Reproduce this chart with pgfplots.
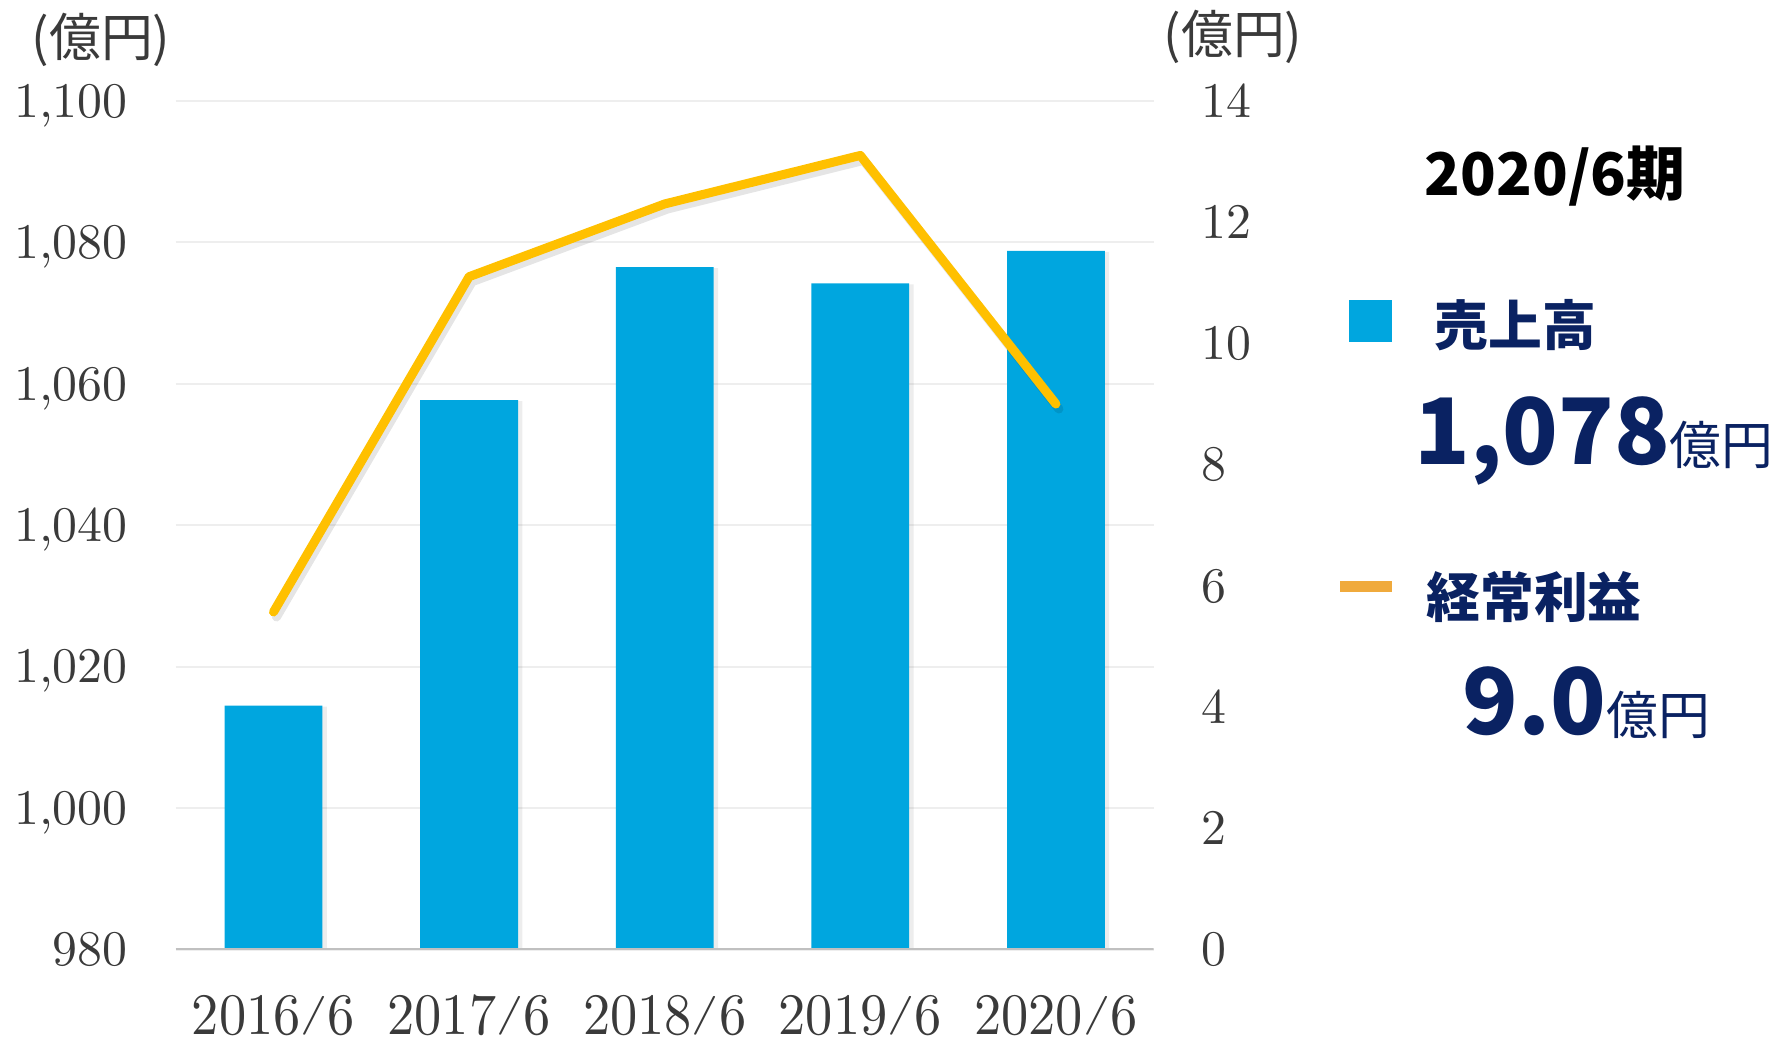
\documentclass[border=0pt]{standalone}
\usepackage{graphicx}
\usepackage{pgfplots}
\pgfplotsset{compat=1.18}
\usepackage{fontspec}
\newfontfamily\jp{Noto Sans CJK JP}
\newfontfamily\lmten{lmroman10-regular}[Extension=.otf]
\definecolor{barblue}{HTML}{00A6DF}
\definecolor{lineyel}{HTML}{FFC000}
\definecolor{legor}{HTML}{F0AA3C}
\definecolor{navy}{HTML}{0A2262}
\definecolor{tickc}{HTML}{3A3A3A}
\definecolor{gridc}{HTML}{EEEEEE}
\definecolor{basec}{HTML}{C0C0C0}
\newcommand\slsh{\raisebox{0.16em}{\scalebox{1}[0.66]{/}}}
\newcommand\xl[1]{\scalebox{1}[1.08]{#1}}
\begin{document}
\begin{tikzpicture}[x=0.5bp,y=0.5bp]
\path[use as bounding box] (0,0) rectangle (1777,1043);
\begin{axis}[
  at={(87.85bp,46.65bp)}, anchor=south west, scale only axis,
  width=489bp, height=424.4bp,
  xmin=-0.5, xmax=4.5, ymin=980, ymax=1100,
  ytick={980,1000,...,1100},
  xtick={0,...,4},
  xticklabels={\xl{2016\slsh6},\xl{2017\slsh6},\xl{2018\slsh6},\xl{2019\slsh6},\xl{2020\slsh6}},
  axis line style={draw=none},
  major tick length=0pt,
  ymajorgrids, grid style={draw=gridc, line width=1bp},
  /pgf/number format/assume math mode=true,
  yticklabel style={font=\lmten\fontsize{25}{30}\selectfont, text=tickc, anchor=base east, inner sep=0pt, xshift=-23.8bp, yshift=-8.1bp},
  xticklabel style={font=\lmten\fontsize{27.3}{30}\selectfont, text=tickc, anchor=base, inner sep=0pt, yshift=-42.6bp},
]
\addplot[ybar, bar shift=0pt, bar width=0.5, fill=black, fill opacity=0.07, draw=none, xshift=2.2bp, yshift=-0.5bp] coordinates {(0,1014.5) (1,1057.7) (2,1076.5) (3,1074.2) (4,1078.8)};
\addplot[ybar, bar shift=0pt, bar width=0.5, fill=barblue, draw=none] coordinates {(0,1014.5) (1,1057.7) (2,1076.5) (3,1074.2) (4,1078.8)};
\draw[basec, line width=1.6bp] (rel axis cs:0,0) -- (rel axis cs:1,0);
\end{axis}
\begin{axis}[
  at={(87.85bp,46.65bp)}, anchor=south west, scale only axis,
  width=489bp, height=424.4bp,
  xmin=-0.5, xmax=4.5, ymin=0, ymax=14,
  ytick={0,2,...,14}, xtick=\empty,
  axis line style={draw=none},
  major tick length=0pt,
  yticklabel pos=right,
  /pgf/number format/assume math mode=true,
  yticklabel style={font=\lmten\fontsize{25}{30}\selectfont, text=tickc, anchor=base west, inner sep=0pt, xshift=23.8bp, yshift=-8.1bp},
]
\addplot[black, opacity=0.1, line width=4.5bp, line join=round, line cap=round, xshift=1.5bp, yshift=-2.5bp] coordinates {(0,5.57) (1,11.1) (2,12.3) (3,13.1) (4,9.0)};
\addplot[lineyel, line width=4.5bp, line join=round, line cap=round] coordinates {(0,5.57) (1,11.1) (2,12.3) (3,13.1) (4,9.0)};
\end{axis}
\node[font=\jp\fontsize{26}{30}\selectfont, text=tickc] at (101,1003) {(億円)};
\node[font=\jp\fontsize{26}{30}\selectfont, text=tickc] at (1233,1006) {(億円)};
\node[font=\jp\bfseries\fontsize{29.5}{32}\selectfont, text=black] at (1555,867) {2020/6期};
\fill[barblue] (1349,701) rectangle (1392,743);
\node[anchor=west, inner sep=0pt, font=\jp\bfseries\fontsize{27}{30}\selectfont, text=navy] at (1434,718) {売上高};
\node[anchor=base west, inner sep=0pt, text=navy] at (1414,578) {{\jp\bfseries\fontsize{46}{50}\selectfont 1,078}{\jp\fontsize{26}{30}\selectfont 億円}};
\draw[legor, line width=5.5bp] (1340,456) -- (1392,456);
\node[anchor=west, inner sep=0pt, font=\jp\bfseries\fontsize{27}{30}\selectfont, text=navy] at (1426,446) {経常利益};
\node[anchor=base west, inner sep=0pt, text=navy] at (1462,309) {{\jp\bfseries\fontsize{46}{50}\selectfont 9.0}{\jp\fontsize{26}{30}\selectfont 億円}};
\end{tikzpicture}
\end{document}
